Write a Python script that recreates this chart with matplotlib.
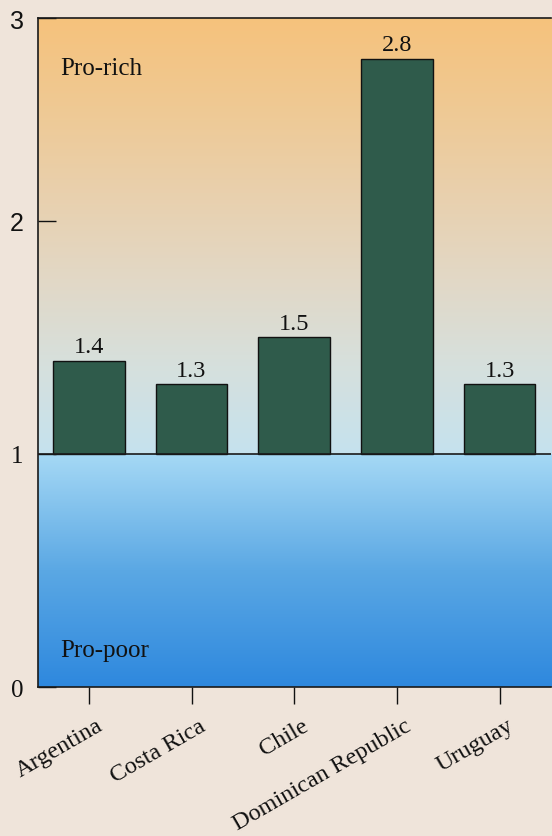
import numpy as np
import matplotlib
matplotlib.use("Agg")
import matplotlib.pyplot as plt
import matplotlib.transforms as mtransforms
from matplotlib.colors import LinearSegmentedColormap

# Data
countries = ["Argentina", "Costa Rica", "Chile", "Dominican Republic", "Uruguay"]
ratios = [1.4, 1.3, 1.5, 2.8, 1.3]
value_labels = ["1.4", "1.3", "1.5", "2.8", "1.3"]
y_ticks = [0, 1, 2, 3]
y_tick_labels = ["0", "1", "2", "3"]
baseline = 1.0

SERIF = ["Liberation Serif", "DejaVu Serif"]
SANS = ["Liberation Sans", "DejaVu Sans"]

# Vertical axis: the upper unit (2-3) is drawn slightly shorter than the others
scale_knots = [0.0, 1.0, 2.0, 3.0]
scale_span = [0.0, 1.0, 2.0, 2.87]


def fwd(v):
    return np.interp(v, scale_knots, scale_span, left=-1e3, right=1e3)


def inv(v):
    return np.interp(v, scale_span, scale_knots, left=-1e3, right=1e3)


fig = plt.figure(figsize=(5.52, 8.37), dpi=100)
fig.patch.set_facecolor("#efe4da")
ax = fig.add_axes([0.068, 0.178, 0.93, 0.799])
ax.set_yscale("function", functions=(fwd, inv))
ax.set_ylim(0, 3)
ax.set_xlim(-0.5, len(countries) - 0.5)

# Gradient backgrounds: blue below the baseline, pale-to-orange above
split = fwd(baseline) / fwd(3.0)
blue = LinearSegmentedColormap.from_list("blue", ["#2e88de", "#5ba8e4", "#a6d9f5"])
warm = LinearSegmentedColormap.from_list(
    "warm", ["#c5e2ee", "#d6e0dd", "#e2d8c6", "#e9d0ad", "#efc993", "#f6c27c"])
grad = np.linspace(0, 1, 256).reshape(-1, 1)
ax.imshow(grad, cmap=blue, origin="lower", aspect="auto",
          extent=[0, 1, 0, split], transform=ax.transAxes, zorder=0)
ax.imshow(grad, cmap=warm, origin="lower", aspect="auto",
          extent=[0, 1, split, 1], transform=ax.transAxes, zorder=0)

x = np.arange(len(countries))
heights = [r - baseline for r in ratios]
bars = ax.bar(x, heights, bottom=baseline, width=0.7, color="#2f5b4b",
              edgecolor="#111111", linewidth=1.0, zorder=3)
ax.axhline(baseline, color="#1a1a1a", linewidth=1.2, zorder=4)

for xi, r, lab in zip(x, ratios, value_labels):
    ax.annotate(lab, (xi, r), xytext=(0, 2.5), textcoords="offset points",
                ha="center", va="bottom", fontsize=17.5, family=SERIF,
                color="#111111", zorder=5)

ax.text(0.045, 0.926, "Pro-rich", transform=ax.transAxes, fontsize=18,
        family=SERIF, ha="left", va="center", color="#111111")
ax.text(0.045, 0.056, "Pro-poor", transform=ax.transAxes, fontsize=18,
        family=SERIF, ha="left", va="center", color="#111111")

# Axes styling
ax.set_yticks(y_ticks)
ax.set_yticklabels(y_tick_labels)
ax.tick_params(axis="y", direction="in", length=13, width=1.0, pad=10,
               labelsize=18, colors="#111111")
for i, t in enumerate(ax.get_yticklabels()):
    t.set_family(SANS if y_tick_labels[i] in ("2", "3") else SERIF)

ax.set_xticks(x)
ax.set_xticklabels(countries, rotation=30, ha="right", va="top",
                   rotation_mode="anchor", fontsize=17.5, family=SERIF)
ax.tick_params(axis="x", direction="out", length=12, width=1.0, pad=8,
               colors="#111111")
shift = mtransforms.ScaledTranslation(0.07, 0, fig.dpi_scale_trans)
for t in ax.get_xticklabels():
    t.set_color("#111111")
    t.set_transform(t.get_transform() + shift)

for side in ("left", "bottom", "top"):
    ax.spines[side].set_color("#1a1a1a")
    ax.spines[side].set_linewidth(1.2)
ax.spines["right"].set_visible(False)

fig.savefig("out.png", dpi=100, facecolor=fig.get_facecolor())
